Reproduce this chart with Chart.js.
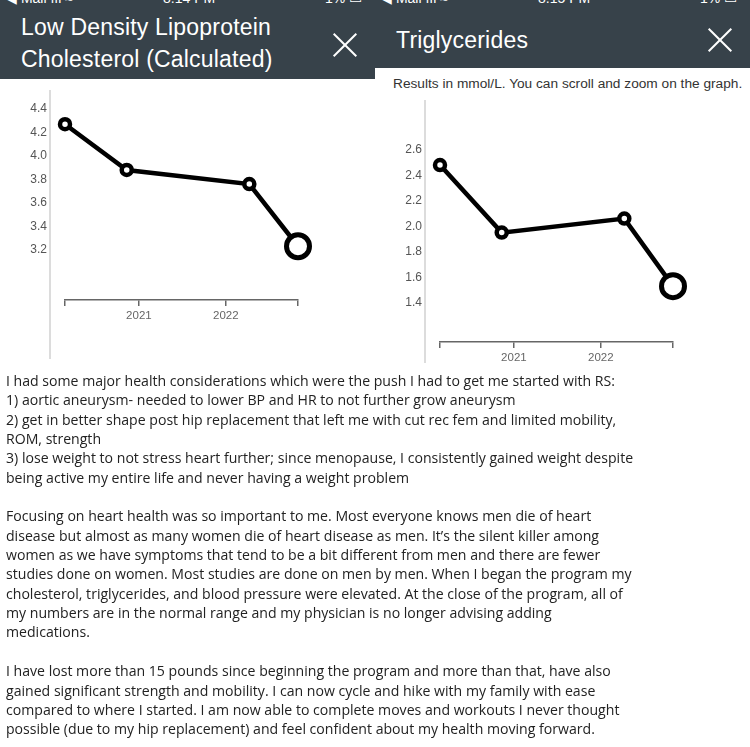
<!DOCTYPE html>
<html>
<head>
<meta charset="utf-8">
<script src="https://cdn.jsdelivr.net/npm/chart.js@4/dist/chart.umd.min.js"></script>
<style>
  body { margin: 0; width: 750px; height: 747px; background: #fff; position: relative; overflow: hidden; font-family: "Liberation Sans", Arial, sans-serif; }
  .bar { position: absolute; background: #37424a; }
  .title { position: absolute; color: #fff; font-size: 23px; letter-spacing: 0.2px; white-space: nowrap; }
  .status { position: absolute; top: -9px; color: #fff; font-size: 14px; line-height: 14px; white-space: nowrap; }
  .close { position: absolute; width: 24px; height: 24px; }
  .close:before, .close:after { content: ''; position: absolute; left: -4px; top: 11px; width: 32px; height: 2px; background: #fff; }
  .close:before { transform: rotate(45deg); }
  .close:after { transform: rotate(-45deg); }
  .vline { position: absolute; width: 2px; background: #dcdcdc; }
  .chartbox { position: absolute; }
  .story { position: absolute; left: 6px; top: 371px; font-family: "Open Sans", "Noto Sans", sans-serif; font-size: 14.1px; line-height: 19.35px; color: #222; white-space: pre; }
</style>
</head>
<body>
<div class="bar" style="left:0;top:0;width:375px;height:79px"></div>
<div class="bar" style="left:375px;top:0;width:375px;height:68px"></div>
<div class="status" style="left:6px">◀ Mail ııl ≈</div>
<div class="status" style="left:163px">8:14 PM</div>
<div class="status" style="left:325px">1% ▭</div>
<div class="status" style="left:381px">◀ Mail ııl ≈</div>
<div class="status" style="left:538px">8:15 PM</div>
<div class="status" style="left:700px">1% ▭</div>
<div class="title" style="left:21px;top:14px">Low Density Lipoprotein</div>
<div class="title" style="left:21px;top:46px">Cholesterol (Calculated)</div>
<div class="close" style="left:333px;top:33px"></div>
<div class="title" style="left:396px;top:27px">Triglycerides</div>
<div class="close" style="left:708px;top:28px"></div>
<div style="position:absolute;left:393px;top:76px;font-size:13.7px;color:#333;white-space:nowrap">Results in mmol/L. You can scroll and zoom on the graph.</div>

<div class="vline" style="left:49px;top:90px;height:269px"></div>
<div class="vline" style="left:424px;top:100px;height:263px"></div>

<div class="chartbox" style="left:0;top:72px;width:375px;height:268px"><canvas id="ldlChart"></canvas></div>
<div class="chartbox" style="left:375px;top:100px;width:375px;height:282px"><canvas id="trigChart"></canvas></div>

<div class="story">I had some major health considerations which were the push I had to get me started with RS:
1) aortic aneurysm- needed to lower BP and HR to not further grow aneurysm
2) get in better shape post hip replacement that left me with cut rec fem and limited mobility,
ROM, strength
3) lose weight to not stress heart further; since menopause, I consistently gained weight despite
being active my entire life and never having a weight problem

Focusing on heart health was so important to me. Most everyone knows men die of heart
disease but almost as many women die of heart disease as men. It’s the silent killer among
women as we have symptoms that tend to be a bit different from men and there are fewer
studies done on women. Most studies are done on men by men. When I began the program my
cholesterol, triglycerides, and blood pressure were elevated. At the close of the program, all of
my numbers are in the normal range and my physician is no longer advising adding
medications.

I have lost more than 15 pounds since beginning the program and more than that, have also
gained significant strength and mobility. I can now cycle and hike with my family with ease
compared to where I started. I am now able to complete moves and workouts I never thought
possible (due to my hip replacement) and feel confident about my health moving forward.</div>

<script>
// test dates as decimal years (no date adapter available)
var visitDates = [2020.15, 2020.86, 2022.27, 2022.83];
var ldlValues = [4.27, 3.88, 3.76, 3.23];
var trigValues = [2.48, 1.95, 2.06, 1.53];
var ldlTicks = [3.2, 3.4, 3.6, 3.8, 4.0, 4.2, 4.4];
var trigTicks = [1.4, 1.6, 1.8, 2.0, 2.2, 2.4, 2.6];
var yearTicks = [2021, 2022];

function makePoints(values) {
    return values.map(function (v, i) {
        return { x: visitDates[i], y: v };
    });
}

function myGraph(id, values, yTicks, yMin, yMax, padTop) {
    var first = visitDates[0];
    var last = visitDates[visitDates.length - 1];
    var radii = values.map(function (v, i) { return i === values.length - 1 ? 11.5 : 5; });
    var borders = values.map(function (v, i) { return i === values.length - 1 ? 5 : 4.5; });
    return new Chart(document.getElementById(id), {
        type: 'line',
        data: {
            datasets: [{
                data: makePoints(values),
                borderColor: '#000',
                borderWidth: 4.5,
                tension: 0,
                pointBackgroundColor: '#fff',
                pointBorderColor: '#000',
                pointBorderWidth: borders,
                pointRadius: radii,
                clip: false
            }]
        },
        options: {
            responsive: true,
            maintainAspectRatio: false,
            animation: false,
            layout: { padding: { top: padTop, right: 77, left: 0, bottom: 0 } },
            plugins: { legend: { display: false }, tooltip: { enabled: false } },
            scales: {
                x: {
                    type: 'linear',
                    min: first,
                    max: last,
                    afterBuildTicks: function (s) {
                        s.ticks = [first].concat(yearTicks, [last]).map(function (v) { return { value: v }; });
                    },
                    afterFit: function (s) { s.height = 40; },
                    ticks: {
                        autoSkip: false,
                        maxRotation: 0,
                        padding: 3,
                        color: '#666',
                        font: { family: 'Liberation Sans', size: 11.5 },
                        callback: function (v) { return yearTicks.indexOf(v) >= 0 ? String(v) : ''; }
                    },
                    grid: { drawOnChartArea: false, drawTicks: true, tickLength: 6, color: '#666', lineWidth: 1.5 },
                    border: { display: true, color: '#666', width: 1.5 }
                },
                y: {
                    min: yMin,
                    max: yMax,
                    afterBuildTicks: function (s) {
                        s.ticks = yTicks.map(function (v) { return { value: v }; });
                    },
                    afterFit: function (s) { s.width = 65; },
                    ticks: {
                        padding: 18,
                        color: '#555',
                        font: { family: 'Liberation Sans', size: 12 },
                        callback: function (v) { return v.toFixed(1); }
                    },
                    grid: { display: false, drawTicks: false },
                    border: { display: false }
                }
            }
        }
    });
}

// chart area top must clear the y label padding (18 + half label)
myGraph('ldlChart', ldlValues, ldlTicks, 2.772, 4.5, 25);
myGraph('trigChart', trigValues, trigTicks, 1.092, 2.7, 37);
</script>
</body>
</html>
